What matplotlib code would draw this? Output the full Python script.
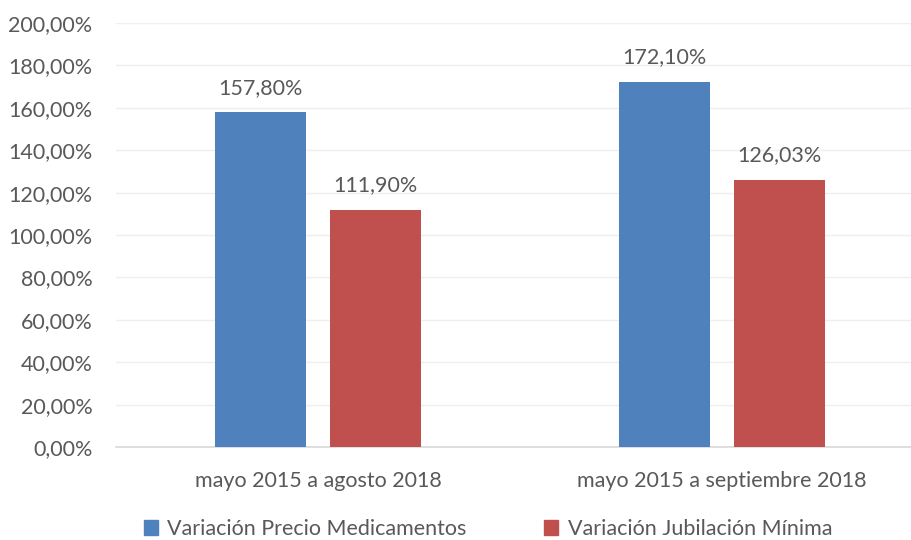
import matplotlib.pyplot as plt
import numpy as np
from matplotlib.patches import Patch

# --- Data ---
categories = ['mayo 2015 a agosto 2018', 'mayo 2015 a septiembre 2018']
series_names = ['Variación Precio Medicamentos', 'Variación Jubilación Mínima']
medicamentos = [157.80, 172.10]
jubilacion = [111.90, 126.03]
y_ticks = [0, 20, 40, 60, 80, 100, 120, 140, 160, 180, 200]

# --- Style ---
BLUE = '#4F81BD'
RED = '#C0504D'
TEXT = '#595959'
FS = 15.5
plt.rcParams['font.family'] = ['Lato', 'DejaVu Sans']


def fmt_pct(v):
    return f'{v:.2f}%'.replace('.', ',')


fig = plt.figure(figsize=(9.11, 5.40), dpi=100)
ax = fig.add_axes([116 / 911, 93 / 540, 795 / 911, 424 / 540])

x = np.arange(len(categories))
width = 0.225
offset = 0.142

bars1 = ax.bar(x - offset, medicamentos, width, color=BLUE, zorder=3)
bars2 = ax.bar(x + offset, jubilacion, width, color=RED, zorder=3)

for bars, vals in ((bars1, medicamentos), (bars2, jubilacion)):
    for b, v in zip(bars, vals):
        ax.text(b.get_x() + b.get_width() / 2, v + 7, fmt_pct(v),
                ha='center', va='bottom', fontsize=FS, color=TEXT)

ax.set_ylim(0, 200)
ax.set_xlim(-0.5, 1.468)
ax.set_yticks(y_ticks)
ax.set_yticklabels([fmt_pct(v) for v in y_ticks])
ax.set_xticks(x)
ax.set_xticklabels(categories)
ax.tick_params(axis='both', length=0, labelsize=FS, colors=TEXT)
ax.tick_params(axis='x', pad=17)
ax.tick_params(axis='y', pad=17)

ax.grid(axis='y', color='#EFEFEF', linewidth=1, zorder=0)
for side in ('top', 'right', 'left'):
    ax.spines[side].set_visible(False)
ax.spines['bottom'].set_color('#D9D9D9')
ax.spines['bottom'].set_linewidth(1.2)

handles = [Patch(color=BLUE), Patch(color=RED)]
fig.legend(handles, series_names, loc='center', bbox_to_anchor=(488 / 911, 11 / 540),
           ncol=2, frameon=False, fontsize=FS, labelcolor=TEXT,
           handlelength=0.65, handleheight=0.65, handletextpad=0.45, columnspacing=3.6)

fig.savefig('out.png', dpi=100)
